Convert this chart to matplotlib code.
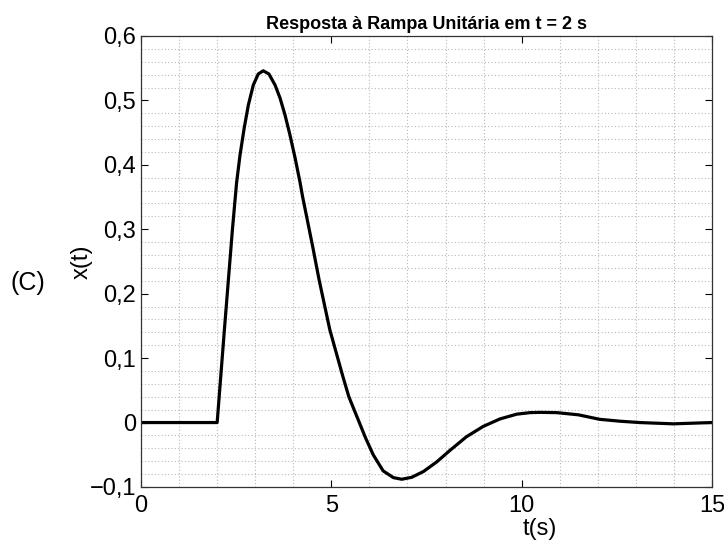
import matplotlib
matplotlib.use('Agg')
import matplotlib.pyplot as plt
from matplotlib.ticker import MultipleLocator

plt.rcParams['font.family'] = ['Liberation Sans', 'DejaVu Sans']

t = [0, 2.0, 2.19, 2.40, 2.51, 2.60, 2.71, 2.82, 2.95, 3.08, 3.21, 3.36, 3.52,
     3.65, 3.78, 3.91, 4.05, 4.18, 4.24, 4.51, 4.68, 4.96, 5.31, 5.46, 5.68,
     5.90, 6.10, 6.36, 6.63, 6.85, 7.11, 7.42, 7.77, 8.12, 8.55, 8.99, 9.43,
     9.87, 10.22, 10.48, 10.92, 11.49, 12.05, 12.6, 13.1, 13.98, 15]
x = [0, 0, 0.144, 0.299, 0.372, 0.415, 0.457, 0.493, 0.524, 0.541, 0.546, 0.541,
     0.524, 0.504, 0.478, 0.447, 0.410, 0.372, 0.352, 0.273, 0.221, 0.144,
     0.070, 0.040, 0.008, -0.024, -0.050, -0.075, -0.0855, -0.088, -0.085,
     -0.076, -0.061, -0.043, -0.022, -0.006, 0.0056, 0.013, 0.0154, 0.0158,
     0.0154, 0.012, 0.005, 0.002, 0.0, -0.002, 0.0]

xticks = [0, 5, 10, 15]
xtick_labels = ['0', '5', '10', '15']
yticks = [-0.1, 0, 0.1, 0.2, 0.3, 0.4, 0.5, 0.6]
ytick_labels = ['\u22120,1', '0', '0,1', '0,2', '0,3', '0,4', '0,5', '0,6']

fig = plt.figure(figsize=(7.24, 5.52), dpi=100)
ax = fig.add_axes([0.1948, 0.1178, 0.7886, 0.817])

ax.plot(t, x, color='black', lw=2.3)

ax.set_xlim(0, 15)
ax.set_ylim(-0.1, 0.6)
ax.set_xticks(xticks)
ax.set_xticklabels(xtick_labels)
ax.set_yticks(yticks)
ax.set_yticklabels(ytick_labels)
ax.xaxis.set_minor_locator(MultipleLocator(1))
ax.yaxis.set_minor_locator(MultipleLocator(0.02))

ax.grid(which='minor', color='#b8b8b8', linestyle=(0, (1, 2)), lw=0.8)
ax.tick_params(which='major', direction='in', length=5, width=0.8,
               top=True, right=True, labelsize=17, colors='black')
ax.tick_params(axis='y', pad=3.5)
ax.tick_params(axis='x', pad=6)
ax.tick_params(which='minor', length=0)
for s in ax.spines.values():
    s.set_color('#333333')
    s.set_linewidth(0.9)

ax.set_title('Resposta à Rampa Unitária em t = 2 s', fontsize=13,
             fontweight='bold', pad=5)
ax.set_xlabel('t(s)', fontsize=17)
ax.xaxis.set_label_coords(0.699, -0.068)
ax.set_ylabel('x(t)', fontsize=17)
ax.yaxis.set_label_coords(-0.084, 0.5)

fig.text(28 / 724, 1 - 283 / 552, '(C)', fontsize=18, ha='center', va='center')

fig.savefig('out.png', dpi=100)
